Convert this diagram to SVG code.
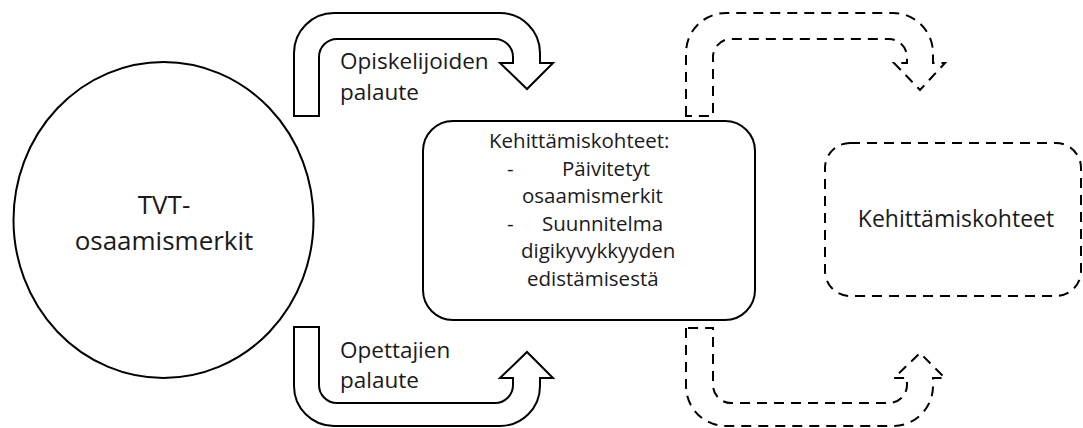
<svg xmlns="http://www.w3.org/2000/svg" width="1083" height="428" viewBox="0 0 1083 428">
<style>
.shape{fill:#fff;stroke:#000;stroke-width:2}
.dash{fill:none;stroke:#000;stroke-width:2;stroke-dasharray:10 7}
.t{font-family:"Open Sans","Noto Sans","Liberation Sans",sans-serif;fill:#1a1a1a}
.m{font-size:22.5px}
.b{font-size:20.5px}
.c{font-size:26px;text-anchor:middle}
</style>
<rect width="1083" height="428" fill="#fff"/>
<g id="node-tvt">
<ellipse class="shape" cx="163.5" cy="220" rx="150" ry="158"/>
<text class="t c" x="164" y="214">TVT-</text>
<text class="t c" x="164" y="250">osaamismerkit</text>
</g>
<g id="connectors">
<path class="shape" d="M294,116 V53 A40,40 0 0 1 334,13 H500 A40,40 0 0 1 540,53 V63 H553 L527,89 L500,63 H513 V57 A18,18 0 0 0 495,39 H337 A18,18 0 0 0 319,57 V116 Z"/>
<path class="shape" d="M294,327 V386 A40,40 0 0 0 334,426 H500 A40,40 0 0 0 540,386 V378 H553 L527,352 L500,378 H513 V385 A18,18 0 0 1 495,403 H337 A18,18 0 0 1 319,385 V327 Z"/>
<path class="dash" d="M686,116 V53 A40,40 0 0 1 726,13 H893 A40,40 0 0 1 933,53 V63 H945 L920,90 L894,63 H907 V57 A18,18 0 0 0 889,39 H731 A18,18 0 0 0 713,57 V116 Z"/>
<path class="dash" d="M686,328 V386 A40,40 0 0 0 726,426 H893 A40,40 0 0 0 933,386 V378 H945 L920,353 L894,378 H907 V385 A18,18 0 0 1 889,403 H731 A18,18 0 0 1 713,385 V328 Z"/>
<text class="t m" x="340" y="69">Opiskelijoiden</text>
<text class="t m" x="340" y="100">palaute</text>
<text class="t m" x="340" y="358">Opettajien</text>
<text class="t m" x="340" y="388">palaute</text>
</g>
<g id="node-kehittamiskohteet-1">
<rect class="shape" x="423" y="121" width="332" height="199" rx="30"/>
<text class="t b" x="489" y="148">Kehittämiskohteet:</text>
<text class="t b" x="507" y="176">-</text>
<text class="t b" x="562" y="176">Päivitetyt</text>
<text class="t b" x="522" y="203">osaamismerkit</text>
<text class="t b" x="507" y="231">-</text>
<text class="t b" x="542" y="231">Suunnitelma</text>
<text class="t b" x="521" y="258">digikyvykkyyden</text>
<text class="t b" x="527" y="286">edistämisestä</text>
</g>
<g id="node-kehittamiskohteet-2">
<rect class="dash" x="825" y="143" width="256" height="153" rx="25"/>
<text class="t" x="956" y="227" text-anchor="middle" font-size="23">Kehittämiskohteet</text>
</g>
</svg>
